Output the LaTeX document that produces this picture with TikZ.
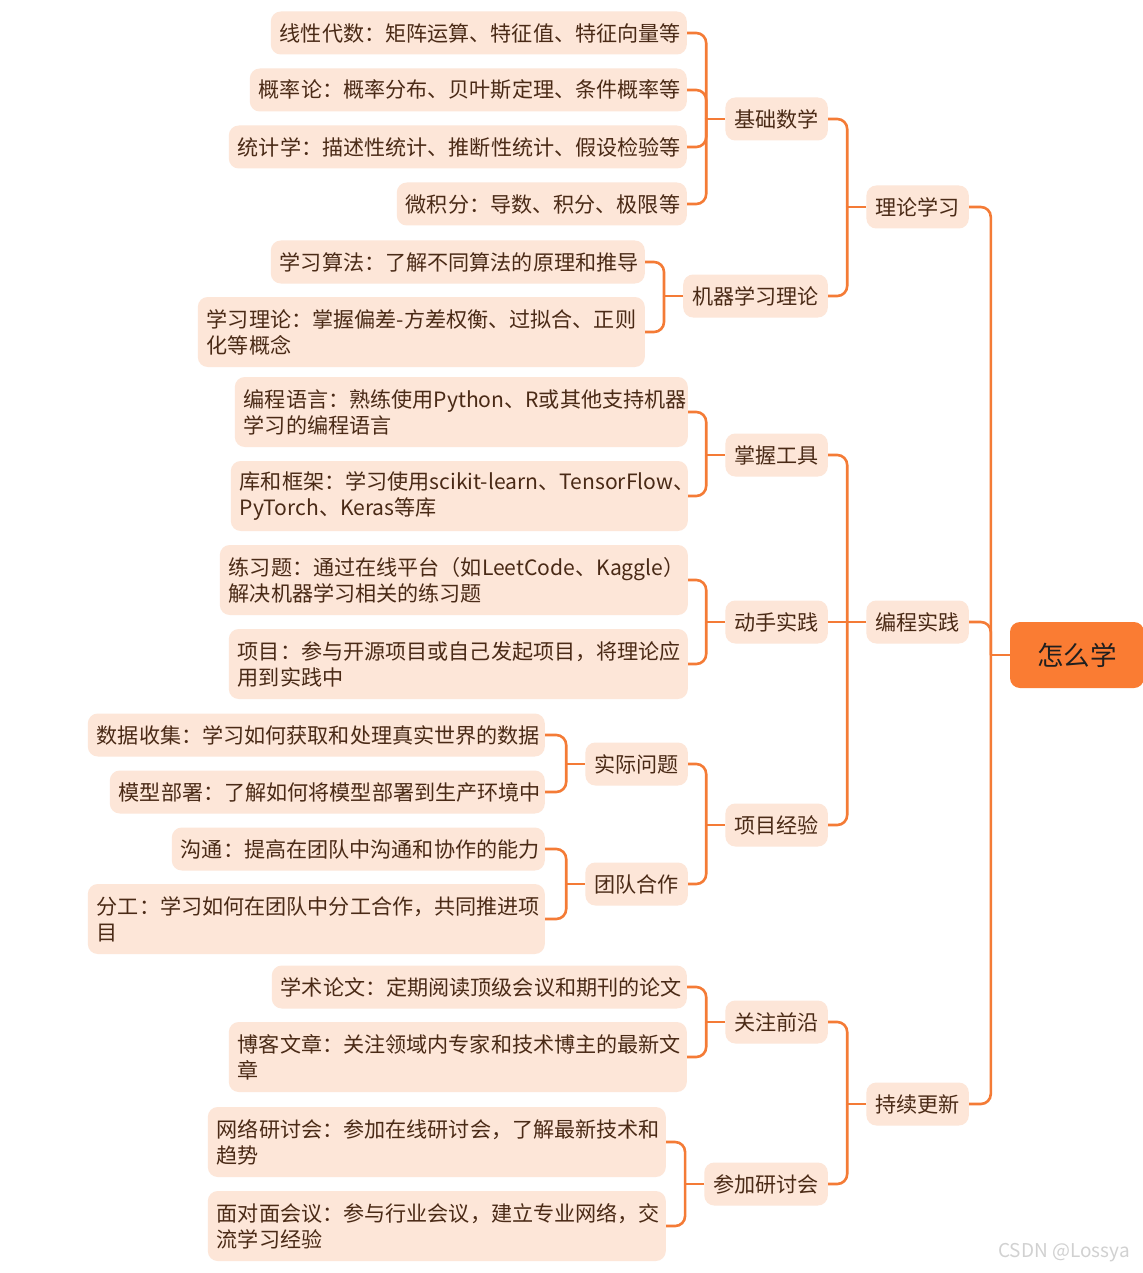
\documentclass[tikz,border=0pt]{standalone}
\usepackage{fontspec}
\setmainfont{Noto Sans CJK SC}
\definecolor{lineC}{HTML}{F47B36}
\definecolor{fillC}{HTML}{FDE6D8}
\definecolor{rootC}{HTML}{FA7C33}
\definecolor{txtC}{HTML}{4A2A16}
\newcommand{\mmfont}{\fontsize{21.1}{26}\selectfont\hyphenpenalty=10000 \exhyphenpenalty=10000 \hbadness=10000 \hfuzz=50pt\relax}
\newcommand{\mmtrunk}[1]{\draw[edge] (#1.west) -- ++(-19,0) coordinate (j#1);}
\newcommand{\mmarm}[2]{\draw[armst] (j#1) |- (#2.east);}
\begin{document}
\begin{tikzpicture}[x=1pt,y=-1pt,
  box/.style={fill=fillC, rounded corners=10pt, inner xsep=9pt, inner ysep=0pt,
    text=txtC, font=\mmfont, align=left, anchor=east, minimum height=43pt},
  leaf/.style={box, text width=#1-18pt},
  tall/.style={minimum height=70pt},
  rootbox/.style={fill=rootC, rounded corners=10pt, text=black!88,
    font=\fontsize{26.5}{30}\selectfont, minimum width=134pt, minimum height=66pt},
  edge/.style={draw=lineC, line width=2.6pt},
  armst/.style={edge, rounded corners=10pt},
  wm/.style={text=black!18, font=\fontsize{19}{19}\selectfont}]
\path[fill=white] (0,0) rectangle (1142,1273);
\useasboundingbox (0,0) rectangle (1142,1273);

% root and level 1
\node[rootbox] (root) at (1077,655) {怎么学};
\node[box] (t1) at (969,207) {理论学习};
\node[box] (t2) at (969,622) {编程实践};
\node[box] (t3) at (969,1104) {持续更新};

% level 2
\node[box] (m1) at (828,119) {基础数学};
\node[box] (m2) at (828,296) {机器学习理论};
\node[box] (p1) at (828,455) {掌握工具};
\node[box] (p2) at (828,622) {动手实践};
\node[box] (p3) at (828,825) {项目经验};
\node[box] (u1) at (828,1022) {关注前沿};
\node[box] (u2) at (828,1184) {参加研讨会};

% level 3
\node[box] (p31) at (688,764) {实际问题};
\node[box] (p32) at (688,884) {团队合作};

% leaves
\node[leaf=416pt] (m11) at (687,33) {线性代数：矩阵运算、特征值、特征向量等};
\node[leaf=437pt] (m12) at (687,90) {概率论：概率分布、贝叶斯定理、条件概率等};
\node[leaf=458pt] (m13) at (687,147) {统计学：描述性统计、推断性统计、假设检验等};
\node[leaf=290pt] (m14) at (687,204) {微积分：导数、积分、极限等};
\node[leaf=374pt] (m21) at (645,262) {学习算法：了解不同算法的原理和推导};
\node[leaf=447pt,tall] (m22) at (645,332) {学习理论：掌握偏差-方差权衡、过拟合、正则\\化等概念};
\node[leaf=453pt,tall] (p11) at (688,412) {编程语言：熟练使用Python、R或其他支持机器\\学习的编程语言};
\node[leaf=457pt,tall] (p12) at (688,496) {库和框架：学习使用scikit-learn、TensorFlow、\\PyTorch、Keras等库};
\node[leaf=468pt,tall] (p21) at (688,580) {练习题：通过在线平台（如LeetCode、Kaggle）\\解决机器学习相关的练习题};
\node[leaf=459pt,tall] (p22) at (688,664) {项目：参与开源项目或自己发起项目，将理论应\\用到实践中};
\node[leaf=457pt] (p311) at (545,735) {数据收集：学习如何获取和处理真实世界的数据};
\node[leaf=435pt] (p312) at (545,792) {模型部署：了解如何将模型部署到生产环境中};
\node[leaf=373pt] (p321) at (545,849) {沟通：提高在团队中沟通和协作的能力};
\node[leaf=457pt,tall] (p322) at (545,919) {分工：学习如何在团队中分工合作，共同推进项\\目};
\node[leaf=415pt] (u11) at (687,987) {学术论文：定期阅读顶级会议和期刊的论文};
\node[leaf=458pt,tall] (u12) at (687,1057) {博客文章：关注领域内专家和技术博主的最新文\\章};
\node[leaf=458pt,tall] (u21) at (666,1142) {网络研讨会：参加在线研讨会，了解最新技术和\\趋势};
\node[leaf=458pt,tall] (u22) at (666,1226) {面对面会议：参与行业会议，建立专业网络，交\\流学习经验};

\node[wm] (wmark) at (1064,1253) {CSDN @Lossya};

% connectors
\mmtrunk{root}
\mmarm{root}{t1} \mmarm{root}{t2} \mmarm{root}{t3}
\mmtrunk{t1}
\mmarm{t1}{m1} \mmarm{t1}{m2}
\mmtrunk{t2}
\mmarm{t2}{p1} \mmarm{t2}{p3}
\draw[edge] (jt2) -- (p2.east);
\mmtrunk{t3}
\mmarm{t3}{u1} \mmarm{t3}{u2}
\mmtrunk{m1}
\mmarm{m1}{m11} \mmarm{m1}{m12} \mmarm{m1}{m13} \mmarm{m1}{m14}
\mmtrunk{m2}
\mmarm{m2}{m21} \mmarm{m2}{m22}
\mmtrunk{p1}
\mmarm{p1}{p11} \mmarm{p1}{p12}
\mmtrunk{p2}
\mmarm{p2}{p21} \mmarm{p2}{p22}
\mmtrunk{p3}
\mmarm{p3}{p31} \mmarm{p3}{p32}
\mmtrunk{p31}
\mmarm{p31}{p311} \mmarm{p31}{p312}
\mmtrunk{p32}
\mmarm{p32}{p321} \mmarm{p32}{p322}
\mmtrunk{u1}
\mmarm{u1}{u11} \mmarm{u1}{u12}
\mmtrunk{u2}
\mmarm{u2}{u21} \mmarm{u2}{u22}
\end{tikzpicture}
\end{document}
